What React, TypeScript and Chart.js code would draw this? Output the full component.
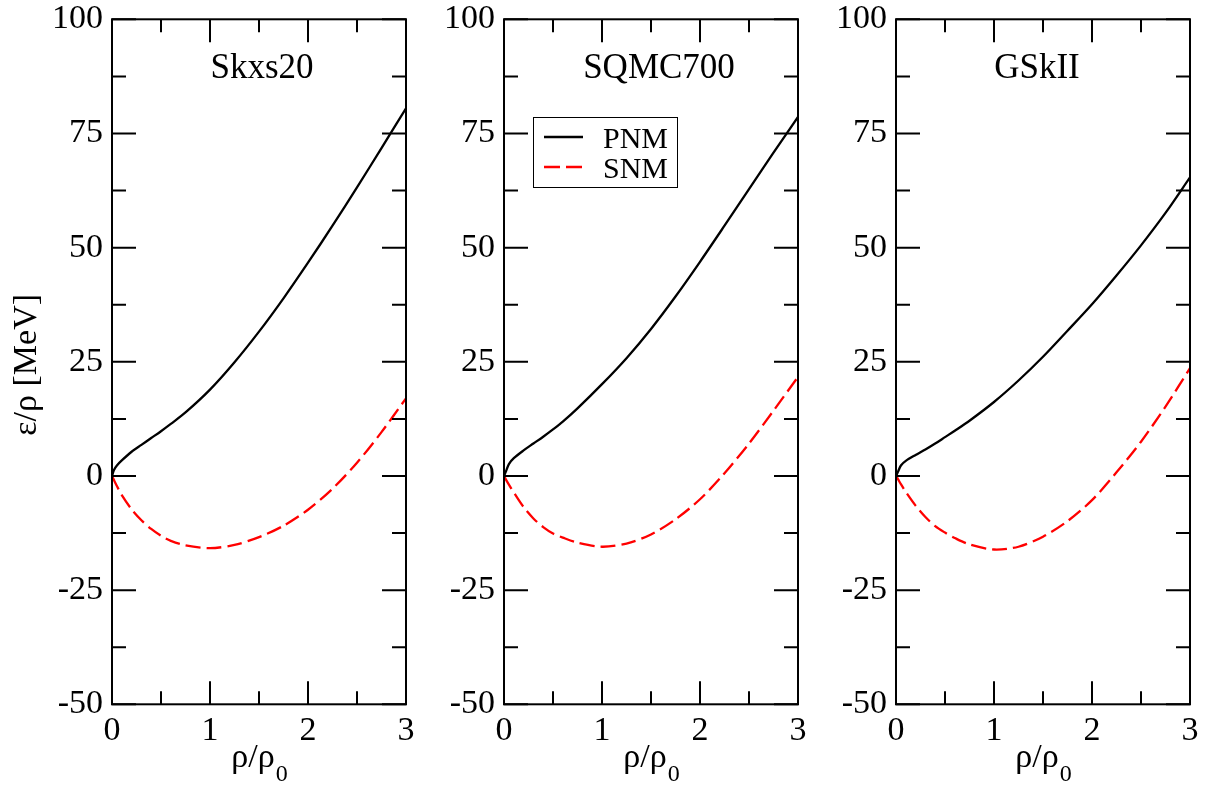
import React, { useEffect, useRef } from "react";
import { Chart, registerables } from "chart.js";

Chart.register(...registerables);

const SERIF = '"Liberation Serif", "Times New Roman", Times, serif';

// ---------- data ----------
const rho = [0, 0.02, 0.05, 0.1, 0.2, 0.3, 0.4, 0.5, 0.6, 0.75, 1, 1.25, 1.5, 1.75, 2, 2.25, 2.5, 2.75, 3];

const pnmSkxs20 = [0, 1.3, 2.3, 3.4, 5.3, 6.8, 8.3, 9.8, 11.4, 13.9, 18.9, 24.9, 31.6, 38.9, 46.7, 54.8, 63.2, 71.8, 80.5];
const snmSkxs20 = [0, -0.9, -2.2, -4.2, -7.3, -9.7, -11.6, -13.1, -14.2, -15.2, -15.8, -15.1, -13.4, -10.9, -7.4, -2.8, 2.9, 9.6, 17.0];

const pnmSQMC700 = [0, 1.0, 2.6, 3.9, 5.6, 7.1, 8.6, 10.2, 11.9, 14.8, 20.1, 25.8, 32.2, 39.3, 46.9, 54.8, 62.8, 70.8, 78.6];
const snmSQMC700 = [0, -0.8, -1.9, -3.6, -6.8, -9.3, -11.2, -12.6, -13.5, -14.6, -15.5, -14.8, -12.8, -9.5, -5.1, 0.6, 7.1, 14.3, 21.7];

const pnmGSkII = [0, 0.9, 2.3, 3.3, 4.6, 5.8, 7.1, 8.5, 9.9, 12.1, 16.2, 20.9, 26.1, 31.8, 37.6, 43.9, 50.5, 57.6, 65.4];
const snmGSkII = [0, -0.7, -1.8, -3.5, -6.5, -9.0, -11.0, -12.4, -13.6, -15.0, -16.1, -15.5, -13.3, -9.9, -5.3, 0.8, 7.5, 15.2, 23.6];

const panelNames = ["Skxs20", "SQMC700", "GSkII"];
const pnmSeries = [pnmSkxs20, pnmSQMC700, pnmGSkII];
const snmSeries = [snmSkxs20, snmSQMC700, snmGSkII];
const legendLabels = ["PNM", "SNM"];

const xMin = 0, xMax = 3, xMajor = 1, xMinor = 0.5;
const yMin = -50, yMax = 100, yMajor = 25, yMinor = 12.5;

const yAxisTitle = "ε/ρ [MeV]";
const xAxisMain = "ρ/ρ";
const xAxisSub = "0";

// ---------- layout ----------
const W = 1207, H = 791;
const plotLefts = [112, 504, 896];
const plotWidth = 294;
const plotTop = 19.3;
const plotBottom = 704.3;
const yScaleW = 100;
const titleOffsets = [3, 8, -6];
const DASH = [15, 6];

function makeConfig(i: number) {
  const left = plotLefts[i];
  const right = left + plotWidth;
  const decor = {
    id: "decor" + i,
    afterDatasetsDraw(chart: any) {
      const { ctx, chartArea: a } = chart;
      const xs = chart.scales.x;
      const ys = chart.scales.y;
      ctx.save();
      ctx.strokeStyle = "#000";
      ctx.lineWidth = 2;
      ctx.lineCap = "butt";
      ctx.beginPath();
      for (let v = xMin; v <= xMax + 1e-9; v += xMinor) {
        const px = xs.getPixelForValue(v);
        const len = Math.abs(v / xMajor - Math.round(v / xMajor)) < 1e-6 ? 23 : 13;
        ctx.moveTo(px, a.bottom);
        ctx.lineTo(px, a.bottom - len);
        ctx.moveTo(px, a.top);
        ctx.lineTo(px, a.top + len);
      }
      for (let v = yMin; v <= yMax + 1e-9; v += yMinor) {
        const py = ys.getPixelForValue(v);
        const len = Math.abs(v / yMajor - Math.round(v / yMajor)) < 1e-6 ? 24 : 14;
        ctx.moveTo(a.left, py);
        ctx.lineTo(a.left + len, py);
        ctx.moveTo(a.right, py);
        ctx.lineTo(a.right - len, py);
      }
      ctx.stroke();
      ctx.strokeRect(a.left, a.top, a.right - a.left, a.bottom - a.top);

      // panel title
      ctx.fillStyle = "#000";
      ctx.font = `35px ${SERIF}`;
      ctx.textAlign = "center";
      ctx.textBaseline = "alphabetic";
      ctx.fillText(panelNames[i], (a.left + a.right) / 2 + titleOffsets[i], 78);

      // x axis title with subscript
      ctx.font = `34px ${SERIF}`;
      const w1 = ctx.measureText(xAxisMain).width;
      ctx.font = `24px ${SERIF}`;
      const w2 = ctx.measureText(xAxisSub).width;
      const start = (a.left + a.right) / 2 - (w1 + w2) / 2;
      ctx.textAlign = "left";
      ctx.font = `34px ${SERIF}`;
      ctx.fillText(xAxisMain, start, 767);
      ctx.font = `24px ${SERIF}`;
      ctx.fillText(xAxisSub, start + w1 + 1, 781);

      if (i === 0) {
        ctx.save();
        ctx.translate(27.5, (a.top + a.bottom) / 2 + 3);
        ctx.rotate(-Math.PI / 2);
        ctx.font = `34px ${SERIF}`;
        ctx.textAlign = "center";
        ctx.textBaseline = "middle";
        ctx.fillText(yAxisTitle, 0, 0);
        ctx.restore();
      }

      if (i === 1) {
        const bx = a.left + 29, by = 117, bw = 144, bh = 70;
        ctx.fillStyle = "#fff";
        ctx.fillRect(bx, by, bw, bh);
        ctx.lineWidth = 1;
        ctx.strokeStyle = "#000";
        ctx.strokeRect(bx + 0.5, by + 0.5, bw, bh);
        ctx.lineWidth = 2.3;
        ctx.beginPath();
        ctx.moveTo(bx + 11, 137);
        ctx.lineTo(bx + 50, 137);
        ctx.stroke();
        ctx.strokeStyle = "#ff0000";
        ctx.setLineDash([16, 6]);
        ctx.beginPath();
        ctx.moveTo(bx + 11, 167);
        ctx.lineTo(bx + 50, 167);
        ctx.stroke();
        ctx.setLineDash([]);
        ctx.fillStyle = "#000";
        ctx.font = `30px ${SERIF}`;
        ctx.textAlign = "left";
        ctx.textBaseline = "alphabetic";
        ctx.fillText(legendLabels[0], bx + 70, 147.5);
        ctx.fillText(legendLabels[1], bx + 70, 177.5);
      }
      ctx.restore();
    },
  };

  return {
    type: "line" as const,
    data: {
      datasets: [
        {
          label: legendLabels[0],
          data: rho.map((x, k) => ({ x, y: pnmSeries[i][k] })),
          borderColor: "#000000",
          borderWidth: 2.3,
          pointRadius: 0,
          fill: false,
          tension: 0.3,
        },
        {
          label: legendLabels[1],
          data: rho.map((x, k) => ({ x, y: snmSeries[i][k] })),
          borderColor: "#ff0000",
          borderWidth: 2.3,
          borderDash: DASH,
          pointRadius: 0,
          fill: false,
          tension: 0.3,
        },
      ],
    },
    options: {
      responsive: false,
      animation: false as const,
      devicePixelRatio: 1,
      layout: {
        padding: { left: left - yScaleW, right: W - right, top: plotTop, bottom: 0 },
      },
      plugins: {
        legend: { display: false },
        tooltip: { enabled: false },
        title: { display: false },
      },
      scales: {
        x: {
          type: "linear" as const,
          min: xMin,
          max: xMax,
          grid: { display: false, drawTicks: false },
          border: { display: false },
          ticks: {
            stepSize: xMajor,
            autoSkip: false,
            maxRotation: 0,
            padding: 6,
            color: "#000",
            font: { family: SERIF, size: 34 },
            callback: (v: any) => String(v),
          },
          afterFit: (s: any) => {
            s.height = H - plotBottom;
            s.paddingLeft = 0;
            s.paddingRight = 0;
          },
        },
        y: {
          type: "linear" as const,
          min: yMin,
          max: yMax,
          grid: { display: false, drawTicks: false },
          border: { display: false },
          ticks: {
            stepSize: yMajor,
            autoSkip: false,
            padding: 9,
            color: "#000",
            font: { family: SERIF, size: 34 },
            callback: (v: any) => String(v),
          },
          afterFit: (s: any) => {
            s.width = yScaleW;
            s.paddingTop = 0;
            s.paddingBottom = 0;
          },
        },
      },
    },
    plugins: [decor],
  };
}

export default function App() {
  const r0 = useRef<HTMLCanvasElement>(null);
  const r1 = useRef<HTMLCanvasElement>(null);
  const r2 = useRef<HTMLCanvasElement>(null);

  useEffect(() => {
    const refs = [r0, r1, r2];
    const charts = refs.map((r, i) => new Chart(r.current as HTMLCanvasElement, makeConfig(i) as any));
    return () => charts.forEach((c) => c.destroy());
  }, []);

  const style: React.CSSProperties = { position: "absolute", left: 0, top: 0, width: W, height: H };
  return (
    <div style={{ position: "absolute", left: 0, top: 0, width: W, height: H, background: "#fff" }}>
      <canvas ref={r0} width={W} height={H} style={style} />
      <canvas ref={r1} width={W} height={H} style={style} />
      <canvas ref={r2} width={W} height={H} style={style} />
    </div>
  );
}
